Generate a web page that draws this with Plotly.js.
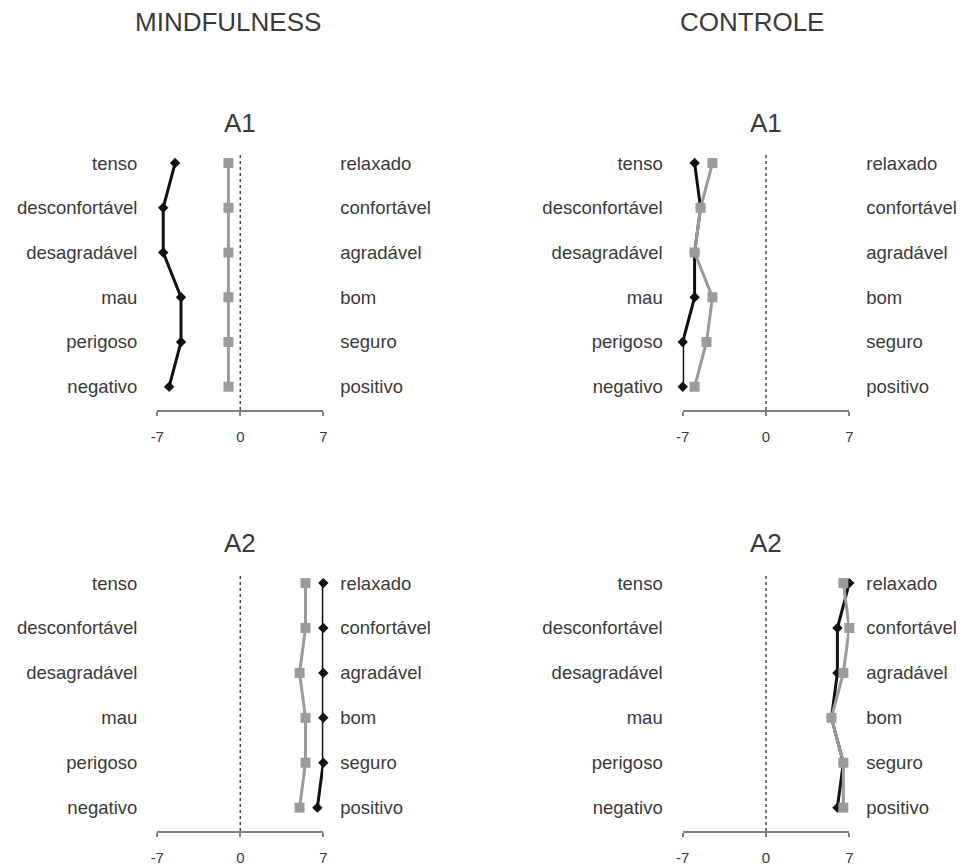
<!DOCTYPE html>
<html>
<head>
<meta charset="utf-8">
<script src="https://cdn.plot.ly/plotly-3.0.1.min.js"></script>
<style>html,body{margin:0;padding:0;background:#fff}#chart{width:968px;height:866px}</style>
</head>
<body>
<div id="chart"></div>
<script>
// ---- data ----
const rowsLeft = ['tenso', 'desconfortável', 'desagradável', 'mau', 'perigoso', 'negativo'];
const rowsRight = ['relaxado', 'confortável', 'agradável', 'bom', 'seguro', 'positivo'];
const xTickVals = [-7, 0, 7];
const xTickText = ['-7', '0', '7'];
const columnTitles = ['MINDFULNESS', 'CONTROLE'];
const panelTitles = ['A1', 'A1', 'A2', 'A2'];

const mindA1Black = [-5.5, -6.5, -6.5, -5, -5, -6];
const mindA1Gray  = [-1, -1, -1, -1, -1, -1];
const ctrlA1Black = [-6, -5.5, -6, -6, -7, -7];
const ctrlA1Gray  = [-4.5, -5.5, -6, -4.5, -5, -6];
const mindA2Black = [7, 7, 7, 7, 7, 6.5];
const mindA2Gray  = [5.5, 5.5, 5, 5.5, 5.5, 5];
const ctrlA2Black = [7, 6, 6, 5.5, 6.5, 6];
const ctrlA2Gray  = [6.5, 7, 6.5, 5.5, 6.5, 6.5];

// ---- styling / layout ----
const FONT = 'Liberation Sans, Arial, sans-serif';
const TXT = '#3a3a3a';
const panels = [
  {black: mindA1Black, gray: mindA1Gray},
  {black: ctrlA1Black, gray: ctrlA1Gray},
  {black: mindA2Black, gray: mindA2Gray},
  {black: ctrlA2Black, gray: ctrlA2Gray}
];
const W = 968, H = 866;
const xDomains = [[157.3 / W, 323.3 / W], [682.7 / W, 849.3 / W]];
const yDomains = [[1 - 410 / H, 1 - 155 / H], [1 - 831 / H, 1 - 575 / H]];
const yRange = [5.52, -0.18];

const traces = [];
const layout = {
  width: W, height: H,
  margin: {l: 0, r: 0, t: 0, b: 0},
  paper_bgcolor: '#fff', plot_bgcolor: 'rgba(0,0,0,0)',
  showlegend: false,
  font: {family: FONT, color: TXT},
  shapes: [], annotations: []
};

panels.forEach((p, i) => {
  const n = i + 1;
  const xs = n === 1 ? '' : String(n);
  const col = i % 2, row = Math.floor(i / 2);
  const xName = 'x' + xs, yName = 'y' + xs;
  const yRightName = 'y' + (n + 4);

  // invisible trace registering the right-hand adjectives on the right axis
  traces.push({
    type: 'scatter', mode: 'markers', x: p.gray, y: rowsRight,
    xaxis: xName, yaxis: yRightName, opacity: 0, hoverinfo: 'skip',
    marker: {size: 1, color: '#fff'}
  });
  traces.push({
    type: 'scatter', mode: 'lines+markers', x: p.black, y: rowsLeft,
    xaxis: xName, yaxis: yName, cliponaxis: false,
    line: {color: '#111', width: 3},
    marker: {symbol: 'diamond', size: 8, color: '#111'}
  });
  traces.push({
    type: 'scatter', mode: 'lines+markers', x: p.gray, y: rowsLeft,
    xaxis: xName, yaxis: yName, cliponaxis: false,
    line: {color: '#9b9b9b', width: 3},
    marker: {symbol: 'square', size: 10, color: '#9b9b9b'}
  });

  layout['xaxis' + xs] = {
    domain: xDomains[col], anchor: yName, range: [-7, 7],
    tickvals: xTickVals, ticktext: xTickText,
    showgrid: false, zeroline: false, showline: true,
    linecolor: '#808080', linewidth: 2,
    ticks: 'outside', ticklen: 4, tickwidth: 2, tickcolor: '#808080',
    ticklabelstandoff: 8,
    tickfont: {family: FONT, size: 15, color: TXT},
    fixedrange: true
  };
  layout['yaxis' + xs] = {
    domain: yDomains[row], anchor: xName, type: 'category',
    categoryorder: 'array', categoryarray: rowsLeft,
    range: yRange, showgrid: false, zeroline: false, showline: false,
    ticks: '', ticklabelstandoff: 19,
    tickfont: {family: FONT, size: 18.5, color: TXT},
    fixedrange: true
  };
  layout['yaxis' + (n + 4)] = {
    overlaying: yName, anchor: xName, side: 'right', type: 'category',
    categoryorder: 'array', categoryarray: rowsRight,
    range: yRange,
    showgrid: false, zeroline: false, showline: false,
    ticks: '', ticklabelstandoff: 16,
    tickfont: {family: FONT, size: 18.5, color: TXT},
    fixedrange: true
  };

  layout.shapes.push({
    type: 'line', xref: xName, yref: yName + ' domain',
    x0: 0, x1: 0, y0: 0, y1: 1,
    line: {color: '#444', width: 1.5, dash: 'dot'}
  });
  layout.annotations.push({
    text: panelTitles[i], xref: xName + ' domain', yref: yName + ' domain',
    x: 0.5, y: 1, yshift: 32, showarrow: false,
    xanchor: 'center', yanchor: 'middle',
    font: {family: FONT, size: 26, color: TXT}
  });
});

columnTitles.forEach((t, c) => {
  layout.annotations.push({
    text: t, xref: 'paper', yref: 'paper',
    x: c === 0 ? 228 / W : 752 / W, y: 1 - 22 / H,
    showarrow: false, xanchor: 'center', yanchor: 'middle',
    font: {family: FONT, size: 26, color: TXT}
  });
});

Plotly.newPlot('chart', traces, layout, {displayModeBar: false, staticPlot: true});
</script>
</body>
</html>
